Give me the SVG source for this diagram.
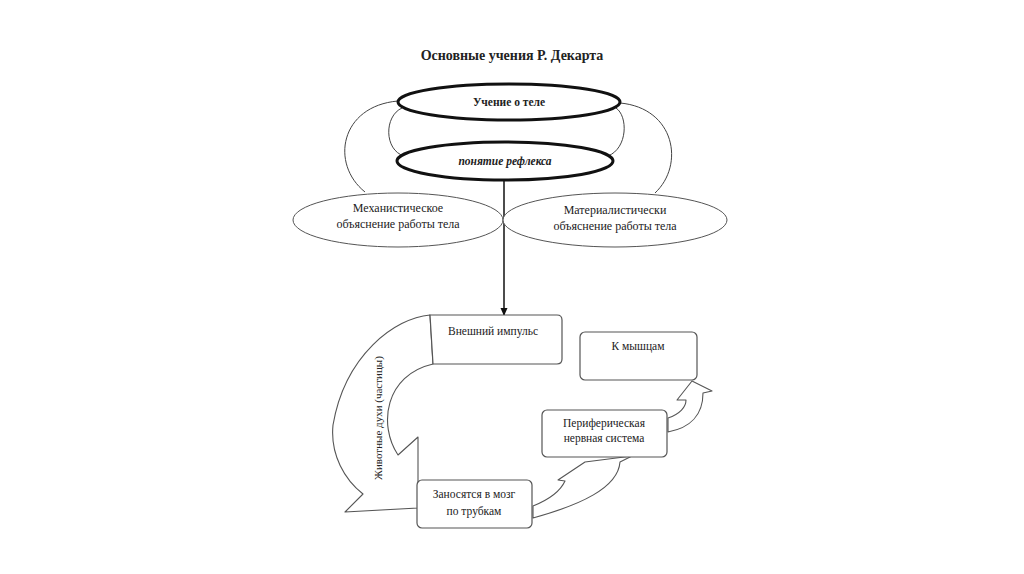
<svg xmlns="http://www.w3.org/2000/svg" width="1024" height="574" viewBox="0 0 1024 574">
<defs>
<style>
.t{font-family:"Liberation Serif","Times New Roman",serif;fill:#222;text-anchor:middle}
.thin{fill:none;stroke:#444;stroke-width:1}
.bold{fill:#fff;stroke:#111;stroke-width:3}
.ell{fill:#fff;stroke:#555;stroke-width:1}
.box{fill:#fff;stroke:#555;stroke-width:1.2}
.blk{fill:#fff;stroke:#555;stroke-width:1.1;stroke-linejoin:round}
</style>
<marker id="ah" markerWidth="8" markerHeight="8" refX="7" refY="4" orient="auto" markerUnits="userSpaceOnUse">
<path d="M0,0.5 L8,4 L0,7.5 Z" fill="#111"/>
</marker>
</defs>
<rect width="1024" height="574" fill="#fff"/>
<text class="t" x="512" y="60" font-size="14" font-weight="bold">Основные учения Р. Декарта</text>
<g id="connectors">
<path class="thin" d="M398,101 C340,106 330,164 365,192"/>
<path class="thin" d="M620,103 C675,108 685,165 655,193"/>
<path class="thin" d="M402,108 C384,116 384,150 404,156"/>
<path class="thin" d="M616,108 C628,116 628,148 608,156"/>
<line x1="504" y1="180" x2="504" y2="315" stroke="#111" stroke-width="1.5" marker-end="url(#ah)"/>
<path id="arrow-spirits" class="blk" d="M430,315 C395,318 345,355 333,425 C330,455 345,480 363,494 L345,512 L418,508 L418,437 L398,455 C378,425 385,375 433,364 Z"/>
<path id="arrow-brain-pns" class="blk" d="M533,506 C548,500 560,492 565,481 L558,480 L585,462 L632,456 L620,462 C618,488 580,505 533,518 Z"/>
<path id="arrow-pns-muscles" class="blk" d="M668,418 C680,414 686,407 686,400 L677,400 L692,381 L712,391 L703,393 C703,415 690,428 668,432 Z"/>
</g>
<g id="node-body">
<ellipse class="bold" cx="509" cy="102" rx="111" ry="18"/>
<text class="t" x="509" y="106" font-size="11.5" font-weight="bold">Учение о теле</text>
</g>
<g id="node-reflex">
<ellipse class="bold" cx="505" cy="161" rx="108" ry="19"/>
<text class="t" x="505" y="165" font-size="11.5" font-weight="bold" font-style="italic">понятие рефлекса</text>
</g>
<g id="node-mech">
<ellipse class="ell" cx="398" cy="220" rx="105" ry="27"/>
<text class="t" x="398" y="212" font-size="12">Механистическое</text>
<text class="t" x="398" y="228" font-size="12">объяснение работы тела</text>
</g>
<g id="node-mat">
<ellipse class="ell" cx="615" cy="220" rx="112" ry="27"/>
<text class="t" x="615" y="214" font-size="12">Материалистически</text>
<text class="t" x="615" y="230" font-size="12">объяснение работы тела</text>
</g>
<g id="node-impulse">
<path class="box" d="M430,315 L557,315 Q562,315 562,320 L562,359 Q562,364 557,364 L433,364 Z"/>
<text class="t" x="493" y="335" font-size="11.5">Внешний импульс</text>
</g>
<g id="node-spirits-label">
<text class="t" x="382" y="418" font-size="11" transform="rotate(-90 382 418)">Животные духи (частицы)</text>
</g>
<g id="node-brain">
<rect class="box" x="417" y="480" width="115" height="48" rx="5"/>
<text class="t" x="474" y="498" font-size="11.5">Заносятся в мозг</text>
<text class="t" x="474" y="515" font-size="11.5">по трубкам</text>
</g>
<g id="node-muscles">
<rect class="box" x="580" y="332" width="117" height="48" rx="5"/>
<text class="t" x="638" y="350" font-size="11.5">К мышцам</text>
</g>
<g id="node-pns">
<rect class="box" x="542" y="410" width="125" height="47" rx="5"/>
<text class="t" x="604" y="427" font-size="11.5">Периферическая</text>
<text class="t" x="604" y="442" font-size="11.5">нервная система</text>
</g>
</svg>
